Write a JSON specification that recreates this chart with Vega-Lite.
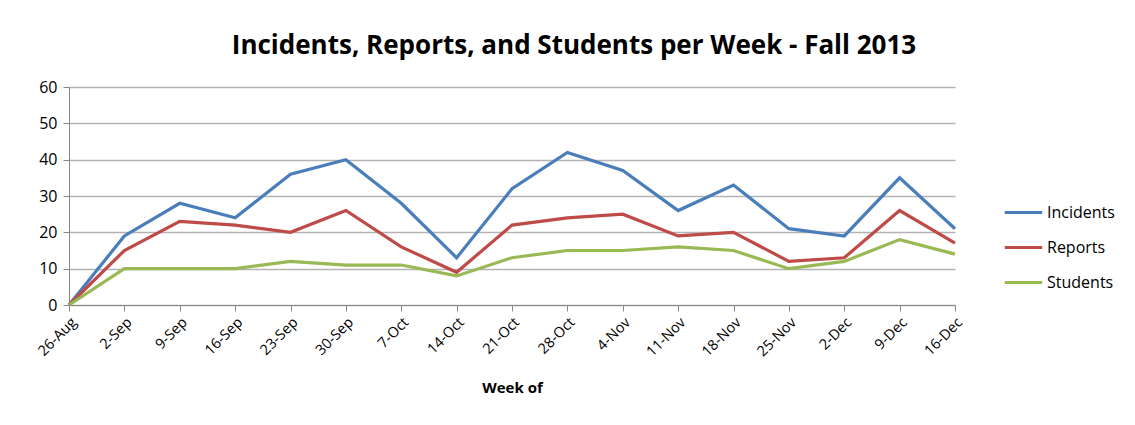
{
  "$schema": "https://vega.github.io/schema/vega-lite/v6.json",
  "autosize": "none",
  "width": 886,
  "height": 218,
  "padding": {"left": 69, "top": 87, "right": 180, "bottom": 120},
  "background": "white",
  "config": {"view": {"stroke": null}, "font": "Open Sans"},
  "title": {
    "text": "Incidents, Reports, and Students per Week - Fall 2013",
    "font": "Open Sans",
    "fontSize": 26,
    "fontWeight": "bold",
    "color": "#000000",
    "anchor": "middle",
    "dx": 62,
    "offset": 20
  },
  "data": {
    "values": [
      {"week": "26-Aug", "series": "Incidents", "value": 0},
      {"week": "2-Sep", "series": "Incidents", "value": 19},
      {"week": "9-Sep", "series": "Incidents", "value": 28},
      {"week": "16-Sep", "series": "Incidents", "value": 24},
      {"week": "23-Sep", "series": "Incidents", "value": 36},
      {"week": "30-Sep", "series": "Incidents", "value": 40},
      {"week": "7-Oct", "series": "Incidents", "value": 28},
      {"week": "14-Oct", "series": "Incidents", "value": 13},
      {"week": "21-Oct", "series": "Incidents", "value": 32},
      {"week": "28-Oct", "series": "Incidents", "value": 42},
      {"week": "4-Nov", "series": "Incidents", "value": 37},
      {"week": "11-Nov", "series": "Incidents", "value": 26},
      {"week": "18-Nov", "series": "Incidents", "value": 33},
      {"week": "25-Nov", "series": "Incidents", "value": 21},
      {"week": "2-Dec", "series": "Incidents", "value": 19},
      {"week": "9-Dec", "series": "Incidents", "value": 35},
      {"week": "16-Dec", "series": "Incidents", "value": 21},
      {"week": "26-Aug", "series": "Reports", "value": 0},
      {"week": "2-Sep", "series": "Reports", "value": 15},
      {"week": "9-Sep", "series": "Reports", "value": 23},
      {"week": "16-Sep", "series": "Reports", "value": 22},
      {"week": "23-Sep", "series": "Reports", "value": 20},
      {"week": "30-Sep", "series": "Reports", "value": 26},
      {"week": "7-Oct", "series": "Reports", "value": 16},
      {"week": "14-Oct", "series": "Reports", "value": 9},
      {"week": "21-Oct", "series": "Reports", "value": 22},
      {"week": "28-Oct", "series": "Reports", "value": 24},
      {"week": "4-Nov", "series": "Reports", "value": 25},
      {"week": "11-Nov", "series": "Reports", "value": 19},
      {"week": "18-Nov", "series": "Reports", "value": 20},
      {"week": "25-Nov", "series": "Reports", "value": 12},
      {"week": "2-Dec", "series": "Reports", "value": 13},
      {"week": "9-Dec", "series": "Reports", "value": 26},
      {"week": "16-Dec", "series": "Reports", "value": 17},
      {"week": "26-Aug", "series": "Students", "value": 0},
      {"week": "2-Sep", "series": "Students", "value": 10},
      {"week": "9-Sep", "series": "Students", "value": 10},
      {"week": "16-Sep", "series": "Students", "value": 10},
      {"week": "23-Sep", "series": "Students", "value": 12},
      {"week": "30-Sep", "series": "Students", "value": 11},
      {"week": "7-Oct", "series": "Students", "value": 11},
      {"week": "14-Oct", "series": "Students", "value": 8},
      {"week": "21-Oct", "series": "Students", "value": 13},
      {"week": "28-Oct", "series": "Students", "value": 15},
      {"week": "4-Nov", "series": "Students", "value": 15},
      {"week": "11-Nov", "series": "Students", "value": 16},
      {"week": "18-Nov", "series": "Students", "value": 15},
      {"week": "25-Nov", "series": "Students", "value": 10},
      {"week": "2-Dec", "series": "Students", "value": 12},
      {"week": "9-Dec", "series": "Students", "value": 18},
      {"week": "16-Dec", "series": "Students", "value": 14}
    ]
  },
  "mark": {"type": "line", "strokeWidth": 3.2},
  "encoding": {
    "x": {
      "field": "week",
      "type": "ordinal",
      "sort": null,
      "scale": {"type": "point", "padding": 0},
      "axis": {
        "title": "Week of",
        "titleFont": "Open Sans",
        "titleFontSize": 15,
        "titleFontWeight": "bold",
        "titleColor": "#000000",
        "titlePadding": 22,
        "labelAngle": -45,
        "labelFont": "Open Sans",
        "labelFontSize": 14.5,
        "labelColor": "#000000",
        "labelPadding": 4,
        "domainColor": "#868686",
        "tickColor": "#868686",
        "tickSize": 6,
        "grid": false
      }
    },
    "y": {
      "field": "value",
      "type": "quantitative",
      "scale": {"domain": [0, 60], "nice": false},
      "axis": {
        "title": null,
        "values": [0, 10, 20, 30, 40, 50, 60],
        "labelFont": "Open Sans",
        "labelFontSize": 16,
        "labelColor": "#000000",
        "labelPadding": 6,
        "domainColor": "#868686",
        "tickColor": "#868686",
        "tickSize": 6,
        "gridColor": "#b3b3b3",
        "gridWidth": 1.5
      }
    },
    "color": {
      "field": "series",
      "type": "nominal",
      "scale": {"domain": ["Incidents", "Reports", "Students"], "range": ["#4a7ebb", "#be4b48", "#98b954"]},
      "legend": {
        "title": null,
        "orient": "none",
        "legendX": 934,
        "legendY": 105,
        "symbolType": "stroke",
        "symbolStrokeWidth": 3.2,
        "symbolSize": 1400,
        "labelFont": "Open Sans",
        "labelFontSize": 16,
        "labelColor": "#000000",
        "rowPadding": 6,
        "labelOffset": 3
      }
    }
  }
}
